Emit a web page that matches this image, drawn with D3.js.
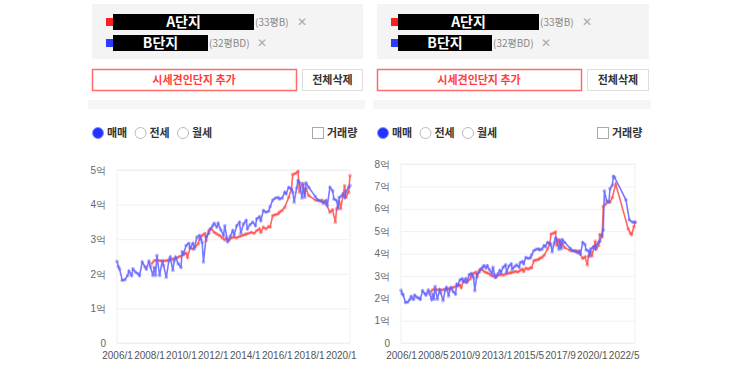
<!DOCTYPE html>
<html>
<head>
<meta charset="utf-8">
<script src="https://cdn.jsdelivr.net/npm/d3@7"></script>
<style>
  body { margin: 0; background: #fff; }
  svg { display: block; font-family: "Noto Sans CJK KR", "Noto Sans", sans-serif; }
</style>
</head>
<body>
<svg id="chart" width="742" height="370"></svg>
<script>
// Series A (red) - month and price (억)
const redDates = ['2008-03','2008-05','2008-07','2008-09','2008-12','2009-02','2009-05','2009-07','2009-10','2009-12',
  '2010-03','2010-05','2010-06','2010-08','2010-10','2010-12','2011-02','2011-03','2011-05','2011-07',
  '2011-08','2011-10','2011-12','2012-02','2012-04','2012-06','2012-08','2012-10','2012-11','2013-01',
  '2013-03','2013-05','2013-07','2013-09','2013-11','2014-01','2014-02','2014-04','2014-06','2014-08',
  '2014-10','2014-12','2015-01','2015-03','2015-05','2015-07','2015-08','2015-10','2015-12','2016-02',
  '2016-03','2016-05','2016-07','2016-10','2016-12','2017-01','2017-03','2017-05','2017-06','2017-08',
  '2017-10','2017-11','2018-01','2018-06','2018-08','2018-11','2019-01','2019-02','2019-05','2019-07',
  '2019-09','2019-10','2019-12','2020-01','2020-03','2020-04','2020-05','2020-07','2020-08','2020-10',
  '2020-11','2021-01','2021-03','2021-05','2021-07','2021-10','2022-09','2022-11','2022-12','2023-02','2023-03'];
const redValues = [2.29,2.38,2.40,2.38,2.37,2.38,2.42,2.43,2.46,2.50,
  2.55,2.60,2.48,2.75,2.72,2.79,2.87,3.01,3.11,3.17,
  2.96,3.25,3.30,3.20,3.15,3.11,3.04,2.98,3.04,2.96,
  3.04,3.06,3.04,3.08,3.11,3.13,3.15,3.17,3.20,3.17,
  3.25,3.30,3.20,3.35,3.30,3.37,3.35,3.68,3.71,3.73,
  3.78,3.83,3.92,4.21,4.45,4.87,4.90,4.96,4.36,4.60,
  4.31,4.45,4.26,4.13,4.12,4.13,4.07,4.02,3.78,3.85,
  3.49,3.88,4.07,3.88,4.31,4.55,4.21,4.36,4.84,4.75,
  6.10,6.20,6.30,6.30,6.50,7.10,5.10,4.90,4.85,5.20,5.40];

// Series B (blue)
const blueDates = ['2006-01','2006-02','2006-03','2006-05','2006-07','2006-09','2006-10','2006-12','2007-01','2007-03',
  '2007-05','2007-06','2007-08','2007-10','2007-11','2008-01','2008-02','2008-04','2008-05','2008-06',
  '2008-07','2008-09','2008-11','2008-12','2009-02','2009-04','2009-05','2009-07','2009-08','2009-09',
  '2009-11','2010-01','2010-02','2010-03','2010-05','2010-07','2010-08','2010-10','2010-11','2011-01',
  '2011-03','2011-04','2011-05','2011-06','2011-08','2011-10','2011-11','2012-01','2012-02','2012-04',
  '2012-05','2012-07','2012-09','2012-10','2012-12','2013-02','2013-04','2013-05','2013-07','2013-09',
  '2013-10','2013-12','2014-02','2014-03','2014-05','2014-07','2014-09','2014-10','2014-12','2015-01',
  '2015-03','2015-05','2015-07','2015-08','2015-10','2015-12','2016-02','2016-03','2016-05','2016-07',
  '2016-08','2016-10','2016-12','2017-01','2017-02','2017-04','2017-05','2017-06','2017-08','2017-09',
  '2017-10','2017-11','2018-01','2018-06','2018-08','2018-10','2018-12','2019-02','2019-03','2019-05',
  '2019-07','2019-08','2019-10','2019-11','2019-12','2020-02','2020-03','2020-04','2020-05','2020-07',
  '2020-08','2020-10','2020-11','2020-12','2021-02','2021-04','2021-05','2021-07','2021-08','2021-09',
  '2022-07','2022-10','2023-01','2023-03'];
const blueValues = [2.36,2.21,2.14,1.81,1.83,1.95,2.08,1.95,2.14,2.05,
  2.00,1.95,2.34,2.21,2.14,2.36,2.21,1.95,2.19,1.95,
  2.53,1.95,2.38,2.24,1.90,2.38,2.48,2.10,2.38,2.48,
  2.29,2.19,2.63,2.58,2.82,2.88,2.75,2.88,2.72,3.06,
  3.11,3.01,2.91,2.34,3.08,3.17,3.30,3.39,3.46,3.35,
  3.46,3.27,3.11,3.39,2.93,3.08,3.25,3.13,3.39,3.49,
  3.17,3.44,3.54,3.30,3.42,3.49,3.39,3.59,3.65,3.54,
  3.83,3.78,3.81,3.94,4.13,4.19,4.21,4.16,4.19,4.36,
  4.31,4.50,4.45,4.36,4.07,4.48,4.69,4.64,4.19,4.60,
  4.21,4.62,4.50,4.23,4.13,4.10,4.04,4.12,3.97,4.50,
  4.40,4.16,4.12,3.88,4.21,4.26,4.31,4.21,4.38,4.50,
  4.55,4.85,5.05,6.80,6.35,6.30,6.90,7.05,7.45,7.40,
  6.40,5.50,5.40,5.40];

const complexNames = ['A단지', 'B단지'];
const complexSizes = ['(33평B)', '(32평BD)'];
const tradeTypes = ['매매', '전세', '월세'];

const parseMonth = d3.timeParse('%Y-%m');
const redData = redDates.map((d, i) => ({ date: parseMonth(d), value: redValues[i] }));
const blueData = blueDates.map((d, i) => ({ date: parseMonth(d), value: blueValues[i] }));

const svg = d3.select('#chart');

// Panel settings (layout only)
const panels = [
  { boxX: 92, boxW: 271, blackW: [141, 95], left: 117, right: 350, top: 170, bottom: 343,
    yMax: 5, start: '2006-01', end: '2020-08', tickStep: 24 },
  { boxX: 377, boxW: 272, blackW: [141, 94], left: 401, right: 635, top: 164, bottom: 343,
    yMax: 8, start: '2006-01', end: '2023-03', tickStep: 28 }
];

const red = '#ff4b4b';
const blue = '#6262ff';

panels.forEach(p => drawPanel(p));

function drawPanel(p) {
  const g = svg.append('g');
  const x0 = p.boxX;

  // header box with selected complexes
  g.append('rect').attr('x', x0).attr('y', 4).attr('width', p.boxW).attr('height', 55).attr('fill', '#f4f4f4');

  [red, blue].forEach((c, i) => {
    const cy = 22 + i * 21;
    g.append('rect').attr('x', x0 + 14).attr('y', cy - 4).attr('width', 7).attr('height', 8)
      .attr('fill', i === 0 ? '#ff1f1f' : '#2b3bff');
    g.append('rect').attr('x', x0 + 21).attr('y', cy - 8).attr('width', p.blackW[i]).attr('height', 16).attr('fill', '#000');
    g.append('text').attr('x', x0 + 21 + p.blackW[i] / 2).attr('y', cy + 5)
      .attr('text-anchor', 'middle').attr('fill', '#fff').attr('font-size', 14).attr('font-weight', 'bold')
      .text(complexNames[i]);
    const sx = x0 + 22 + p.blackW[i];
    g.append('text').attr('x', sx).attr('y', cy + 4).attr('fill', '#888').attr('font-size', 10)
      .text(complexSizes[i]);
    g.append('text').attr('x', sx + (i === 0 ? 42 : 48)).attr('y', cy + 4).attr('fill', '#aaa').attr('font-size', 12)
      .text('✕');
  });

  // buttons
  g.append('rect').attr('x', x0 + 0.5).attr('y', 69.5).attr('width', 204).attr('height', 21)
    .attr('fill', '#fff').attr('stroke', '#ff6b6b').attr('stroke-width', 1.5);
  g.append('text').attr('x', x0 + 102).attr('y', 84).attr('text-anchor', 'middle')
    .attr('fill', '#ff3d3d').attr('font-size', 11).attr('font-weight', 'bold').text('시세견인단지 추가');
  g.append('rect').attr('x', x0 + 210.5).attr('y', 69.5).attr('width', p.boxW - 211).attr('height', 21)
    .attr('fill', '#fff').attr('stroke', '#ddd');
  g.append('text').attr('x', x0 + 210 + (p.boxW - 210) / 2).attr('y', 84).attr('text-anchor', 'middle')
    .attr('fill', '#333').attr('font-size', 11).attr('font-weight', 'bold').text('전체삭제');

  // light divider band
  g.append('rect').attr('x', x0 - 4).attr('y', 100).attr('width', p.boxW + 6).attr('height', 9).attr('fill', '#f6f6f6');

  // radio options
  tradeTypes.forEach((t, i) => {
    const rx = x0 + 6 + i * 42.5;
    g.append('circle').attr('cx', rx).attr('cy', 133).attr('r', 5.5)
      .attr('fill', i === 0 ? '#2233ff' : '#fff').attr('stroke', i === 0 ? '#8890ff' : '#bbb');
    g.append('text').attr('x', rx + 9).attr('y', 137).attr('fill', '#333').attr('font-size', 11)
      .attr('font-weight', 'bold').text(t);
  });
  g.append('rect').attr('x', x0 + 220.5).attr('y', 127.5).attr('width', 11).attr('height', 11)
    .attr('fill', '#fff').attr('stroke', '#aaa');
  g.append('text').attr('x', x0 + 235).attr('y', 137).attr('fill', '#333').attr('font-size', 11)
    .attr('font-weight', 'bold').text('거래량');

  // scales
  const x = d3.scaleTime()
    .domain([parseMonth(p.start), parseMonth(p.end)])
    .range([p.left, p.right]);
  const y = d3.scaleLinear().domain([0, p.yMax]).range([p.bottom, p.top]);

  // gridlines + y labels
  const yAxis = d3.axisLeft(y).ticks(p.yMax)
    .tickSize(-(p.right - p.left)).tickPadding(11)
    .tickFormat(d => d === 0 ? '0' : d + '억');
  const ya = g.append('g').attr('transform', `translate(${p.left},0)`).call(yAxis);
  ya.select('.domain').remove();
  ya.selectAll('line').attr('stroke', '#f0f0f0');
  ya.selectAll('text').attr('fill', '#666').attr('font-size', 10).attr('font-family', 'inherit');

  g.append('rect').attr('x', p.left).attr('y', p.top).attr('width', p.right - p.left)
    .attr('height', p.bottom - p.top).attr('fill', 'none').attr('stroke', '#f0f0f0');

  // x axis labels
  const tickVals = d3.range(8).map(i => d3.timeMonth.offset(parseMonth(p.start), i * p.tickStep));
  const xAxis = d3.axisBottom(x).tickValues(tickVals).tickSize(0).tickPadding(9)
    .tickFormat(d3.timeFormat('%Y/%-m'));
  const xa = g.append('g').attr('transform', `translate(0,${p.bottom})`).call(xAxis);
  xa.select('.domain').remove();
  xa.selectAll('text').attr('fill', '#555').attr('font-size', 10).attr('font-family', 'inherit');

  // lines
  const end = parseMonth(p.end);
  const line = d3.line().x(d => x(d.date)).y(d => y(d.value));
  [[redData, red], [blueData, blue]].forEach(([data, c]) => {
    const pts = data.filter(d => d.date <= end);
    g.append('path').datum(pts).attr('d', line).attr('fill', 'none')
      .attr('stroke', c).attr('stroke-width', 1.6).attr('stroke-opacity', 0.85);
    g.selectAll(null).data(pts).enter().append('circle')
      .attr('cx', d => x(d.date)).attr('cy', d => y(d.value)).attr('r', 1.9)
      .attr('fill', c).attr('fill-opacity', 0.45);
  });
}
</script>
</body>
</html>
